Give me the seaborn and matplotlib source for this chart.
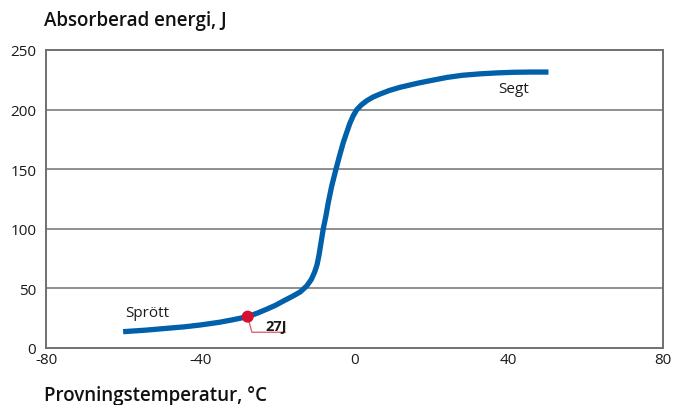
import matplotlib
matplotlib.use("Agg")
import matplotlib.pyplot as plt
import seaborn as sns
import pandas as pd

# Data
temp = [-60, -54, -48.7, -44, -40, -35, -31.4, -27.7, -25, -22.8, -20.5, -18.5,
        -16, -14.1, -12.4, -11.2, -10.3, -9.7, -9.2, -8.7, -8.1, -7.4, -6.8,
        -5.9, -4.8, -3.9, -2.9, -2.0, -1.2, -0.3, 0.6, 1.8, 3.2, 4.8, 6.6, 9,
        11.8, 16.6, 20, 24, 28, 32.6, 37, 41.2, 46, 50.3]
energy = [13.7, 15.0, 16.5, 17.8, 19.3, 21.6, 23.8, 26.3, 29.5, 32.5, 35.8, 39.3,
          43.5, 47, 52, 57.5, 64, 70, 78, 88, 100, 111, 122,
          136, 150, 161, 172.5, 181, 188.5, 195, 200, 204, 207.5, 210.5, 213, 216,
          218.7, 222.3, 224.5, 227, 228.8, 230, 230.8, 231.3, 231.5, 231.5]
marker_temp = [-27.7]
marker_energy = [26.3]
leader_x = [-27.7, -26.6, -17.9]
leader_y = [26.3, 13.2, 13.2]
x_ticks = [-80, -40, 0, 40, 80]
x_tick_labels = ["-80", "-40", "0", "40", "80"]
y_ticks = [0, 50, 100, 150, 200, 250]
y_tick_labels = ["0", "50", "100", "150", "200", "250"]

sns.set_theme(style="white")
plt.rcParams["font.family"] = ["Open Sans", "DejaVu Sans"]

fig = plt.figure(figsize=(6.76, 4.06), dpi=100)
ax = fig.add_axes([46 / 676, 1 - 349 / 406, (663 - 46) / 676, (349 - 51) / 406])

df = pd.DataFrame({"temp": temp, "energy": energy})
sns.lineplot(data=df, x="temp", y="energy", ax=ax, color="#0060aa", linewidth=3.8,
             sort=False, estimator=None, solid_capstyle="butt", solid_joinstyle="round",
             zorder=4)
ax.plot(leader_x, leader_y, color="#e06478", linewidth=1.0, zorder=3)
sns.scatterplot(x=marker_temp, y=marker_energy, ax=ax, color="#d6102e", s=75,
                edgecolor="none", zorder=5)

ax.set_xlim(-80, 80)
ax.set_ylim(0, 250)
ax.set_xticks(x_ticks)
ax.set_xticklabels(x_tick_labels)
ax.set_yticks(y_ticks)
ax.set_yticklabels(y_tick_labels)
ax.set_xlabel("")
ax.set_ylabel("")
ax.tick_params(axis="both", length=0, labelsize=11, labelcolor="#1a1a1a")
ax.tick_params(axis="y", pad=7)
ax.tick_params(axis="x", pad=3)

for y in y_ticks[1:-1]:
    ax.axhline(y, color="#707070", linewidth=1.1, zorder=1)
for s in ax.spines.values():
    s.set_color("#707070")
    s.set_linewidth(1.4)
    s.set_visible(True)

ax.text(-53.7, 30, "Sprött", fontsize=11, color="#1a1a1a", ha="center", va="center")
ax.text(41.2, 218, "Segt", fontsize=11, color="#1a1a1a", ha="center", va="center")
ax.text(-20.4, 14.9, "27J", fontsize=10.5, color="#1a1a1a", ha="center", va="baseline",
        fontweight="bold")

fig.text(44 / 676, 1 - 21 / 406, "Absorberad energi, J", fontsize=13.5, fontweight="semibold",
         color="#111111", ha="left", va="center")
fig.text(44 / 676, 1 - 396 / 406, "Provningstemperatur, °C", fontsize=13.5,
         fontweight="semibold", color="#111111", ha="left", va="center")

fig.savefig("out.png", dpi=100)
